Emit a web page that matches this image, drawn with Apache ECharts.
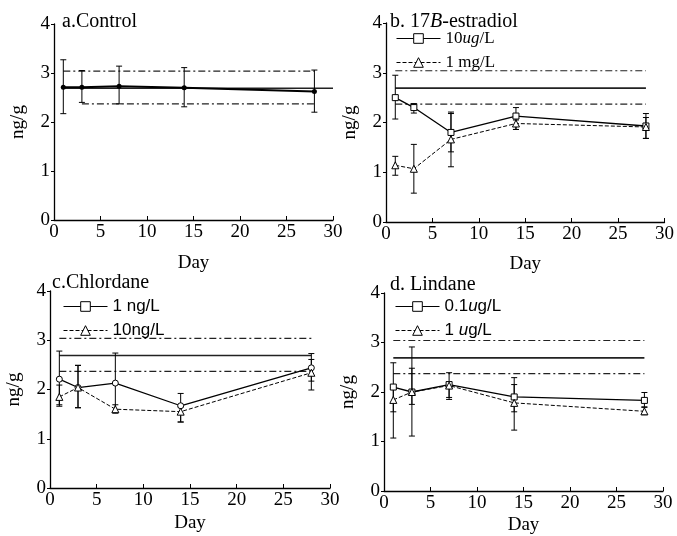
<!DOCTYPE html>
<html>
<head>
<meta charset="utf-8">
<script src="https://cdn.jsdelivr.net/npm/echarts@6/dist/echarts.min.js"></script>
<style>html,body{margin:0;background:#fff}#main{width:677px;height:536px}</style>
</head>
<body>
<div id="main"></div>
<script>
// sampling days
var days = [1, 3, 7, 14, 28];
// control band drawn in every panel
var bandLevels = [3.04, 2.69, 2.37];

// a. control
var ctrlMean = [2.71, 2.71, 2.73, 2.70, 2.62];
var ctrlLow  = [2.17, 2.40, 2.37, 2.31, 2.20];
var ctrlHigh = [3.27, 3.05, 3.14, 3.11, 3.06];

// b. 17B-estradiol
var e2LowDose  = [2.50, 2.30, 1.80, 2.13, 1.93];
var e2LowDoseL = [2.07, 2.19, 1.41, 1.86, 1.68];
var e2LowDoseH = [2.95, 2.38, 2.21, 2.30, 2.18];
var e2HiDose   = [1.14, 1.07, 1.66, 1.98, 1.91];
var e2HiDoseL  = [0.94, 0.58, 1.11, 1.86, 1.68];
var e2HiDoseH  = [1.32, 1.56, 2.18, 2.05, 2.10];

// c. chlordane
var chLowDose  = [2.21, 2.04, 2.13, 1.67, 2.44];
var chLowDoseL = [1.69, 1.63, 1.52, 1.34, 2.17];
var chLowDoseH = [2.78, 2.49, 2.74, 1.92, 2.73];
var chHiDose   = [1.85, 2.04, 1.60, 1.55, 2.34];
var chHiDoseL  = [1.66, 1.63, 1.53, 1.34, 1.99];
var chHiDoseH  = [2.09, 2.49, 1.69, 1.65, 2.61];

// d. lindane
var liLowDose  = [2.10, 2.00, 2.15, 1.90, 1.83];
var liLowDoseL = [1.60, 1.11, 1.89, 1.60, 1.70];
var liLowDoseH = [2.59, 2.91, 2.39, 2.29, 1.99];
var liHiDose   = [1.84, 2.00, 2.13, 1.78, 1.61];
var liHiDoseL  = [1.07, 1.75, 1.85, 1.23, 1.54];
var liHiDoseH  = [2.09, 2.48, 2.20, 2.15, 1.69];

var xTicks = [0, 5, 10, 15, 20, 25, 30];
var yTicks = [0, 1, 2, 3, 4];

var SERIF = 'Liberation Serif';
var SANS = 'Liberation Sans';
var dashDot = [7, 3, 2, 3];

var chartDom = document.getElementById('main');
var myChart = echarts.init(chartDom);

function pts(vals, pointSym){
    return days.map(function(d, i){
        if (pointSym) return { value: [d, vals[i]], symbol: pointSym };
        return [d, vals[i]];
    });
}

function errSeries(idx, low, high){
    return {
        type: 'custom',
        xAxisIndex: idx,
        yAxisIndex: idx,
        silent: true,
        z: 2,
        encode: { x: 0, y: [1, 2] },
        data: days.map(function(d, i){ return [d, low[i], high[i]]; }),
        renderItem: function(params, api){
            var lo = api.coord([api.value(0), api.value(1)]);
            var hi = api.coord([api.value(0), api.value(2)]);
            var w = 3;
            var st = { stroke: '#000', lineWidth: 1 };
            return {
                type: 'group',
                children: [
                    { type: 'line', shape: { x1: lo[0], y1: lo[1], x2: hi[0], y2: hi[1] }, style: st },
                    { type: 'line', shape: { x1: lo[0] - w, y1: lo[1], x2: lo[0] + w, y2: lo[1] }, style: st },
                    { type: 'line', shape: { x1: hi[0] - w, y1: hi[1], x2: hi[0] + w, y2: hi[1] }, style: st }
                ]
            };
        }
    };
}

function bandSeries(idx, level, x0, x1, solid){
    return {
        type: 'line',
        xAxisIndex: idx,
        yAxisIndex: idx,
        silent: true,
        symbol: 'none',
        z: 1,
        data: [[x0, level], [x1, level]],
        lineStyle: { color: '#222', width: solid ? 1.6 : 1.2, type: solid ? 'solid' : dashDot }
    };
}

function dataSeries(idx, name, vals, sym, dashed, pointSym){
    return {
        name: name,
        type: 'line',
        xAxisIndex: idx,
        yAxisIndex: idx,
        data: pts(vals, pointSym),
        symbol: sym,
        symbolSize: sym == 'triangle' ? 7 : 6,
        z: 4,
        itemStyle: { color: '#fff', borderColor: '#000', borderWidth: 1 },
        lineStyle: { color: '#000', width: dashed ? 1 : 1.3, type: dashed ? [4, 2] : 'solid' }
    };
}

var grids = [
    { left: 54, top: 24, width: 279, height: 196 },
    { left: 386, top: 23, width: 280, height: 199 },
    { left: 50, top: 291, width: 280, height: 197 },
    { left: 384, top: 293, width: 279, height: 199 }
];
var dayGap = [34, 33, 26, 25];

var xAxes = [], yAxes = [];
for (var i = 0; i < 4; i++) {
    xAxes.push({
        type: 'value', gridIndex: i, min: xTicks[0], max: xTicks[xTicks.length - 1], interval: 5,
        name: 'Day', nameLocation: 'middle', nameGap: dayGap[i],
        nameTextStyle: { fontFamily: SERIF, fontSize: 19, color: '#000' },
        axisLine: { lineStyle: { color: '#000', width: 1.3 } },
        axisTick: { inside: true, length: 4, lineStyle: { color: '#000' } },
        axisLabel: { fontFamily: SERIF, fontSize: 19, color: '#000', margin: 3 },
        splitLine: { show: false }
    });
    yAxes.push({
        type: 'value', gridIndex: i, min: yTicks[0], max: yTicks[yTicks.length - 1], interval: 1,
        name: 'ng/g', nameLocation: 'middle', nameGap: 26, nameRotate: 90,
        nameTextStyle: { fontFamily: SERIF, fontSize: 19, color: '#000' },
        axisLine: { show: true, lineStyle: { color: '#000', width: 1.3 } },
        axisTick: { show: true, length: 3, lineStyle: { color: '#000' } },
        axisLabel: { fontFamily: SERIF, fontSize: 19, color: '#000', margin: 4 },
        splitLine: { show: false }
    });
}

var series = [];
// reference band
series.push(bandSeries(0, bandLevels[0], 1, 28, false));
series.push(bandSeries(0, bandLevels[1], 1, 30, true));
series.push(bandSeries(0, bandLevels[2], 3, 28, false));
for (var p = 1; p < 4; p++) {
    series.push(bandSeries(p, bandLevels[0], 1, 28, false));
    series.push(bandSeries(p, bandLevels[1], 1, 28, true));
    series.push(bandSeries(p, bandLevels[2], 1, 28, false));
}

// a. control
series.push(errSeries(0, ctrlLow, ctrlHigh));
series.push({
    name: 'Control', type: 'line', xAxisIndex: 0, yAxisIndex: 0, data: pts(ctrlMean),
    symbol: 'circle', symbolSize: 5, z: 4,
    itemStyle: { color: '#000' },
    lineStyle: { color: '#000', width: 2 }
});

// b
series.push(errSeries(1, e2LowDoseL, e2LowDoseH));
series.push(errSeries(1, e2HiDoseL, e2HiDoseH));
series.push(dataSeries(1, '10ug/L', e2LowDose, 'rect', false));
series.push(dataSeries(1, '1 mg/L', e2HiDose, 'triangle', true));

// c
series.push(errSeries(2, chLowDoseL, chLowDoseH));
series.push(errSeries(2, chHiDoseL, chHiDoseH));
series.push(dataSeries(2, '1 ng/L', chLowDose, 'rect', false, 'circle'));
series.push(dataSeries(2, '10ng/L', chHiDose, 'triangle', true));

// d
series.push(errSeries(3, liLowDoseL, liLowDoseH));
series.push(errSeries(3, liHiDoseL, liHiDoseH));
series.push(dataSeries(3, '0.1ug/L', liLowDose, 'rect', false));
series.push(dataSeries(3, '1 ug/L', liHiDose, 'triangle', true));

var legendText = {
    '10ug/L': '10{i|ug}/L',
    '1 mg/L': '1 mg/L',
    '1 ng/L': '1 ng/L',
    '10ng/L': '10ng/L',
    '0.1ug/L': '0.1{i|u}g/L',
    '1 ug/L': '1 {i|u}g/L'
};

function legendOf(names, left, top, font){
    return {
        orient: 'vertical', left: left, top: top, padding: 0,
        data: names, itemWidth: 44, itemHeight: 12, itemGap: 7,
        selectedMode: false,
        lineStyle: { width: 1 },
        itemStyle: { borderWidth: 1 },
        formatter: function(name){ return legendText[name]; },
        textStyle: {
            fontFamily: font, fontSize: 17, color: '#000',
            rich: { i: { fontFamily: font, fontSize: 17, fontStyle: 'italic', color: '#000' } }
        }
    };
}

function titleOf(text, left, top){
    return {
        text: text, left: left, top: top, padding: 0,
        textStyle: {
            fontFamily: SERIF, fontSize: 20, fontWeight: 'normal', color: '#000',
            rich: { i: { fontFamily: SERIF, fontSize: 20, fontStyle: 'italic', color: '#000' } }
        }
    };
}

option = {
    backgroundColor: '#fff',
    animation: false,
    title: [
        titleOf('a.Control', 62, 12),
        titleOf('b. 17{i|B}-estradiol', 390, 12),
        titleOf('c.Chlordane', 52, 273),
        titleOf('d. Lindane', 390, 275)
    ],
    legend: [
        legendOf(['10ug/L', '1 mg/L'], 396, 30, SERIF),
        legendOf(['1 ng/L', '10ng/L'], 63, 298, SANS),
        legendOf(['0.1ug/L', '1 ug/L'], 395, 298, SANS)
    ],
    grid: grids,
    xAxis: xAxes,
    yAxis: yAxes,
    series: series
};

option && myChart.setOption(option);
</script>
</body>
</html>
